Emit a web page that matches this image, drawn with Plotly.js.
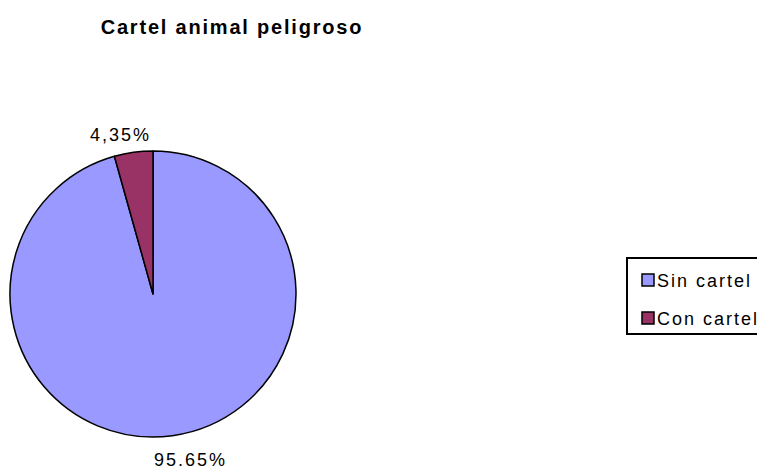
<!DOCTYPE html>
<html><head><meta charset="utf-8">
<script src="https://cdn.plot.ly/plotly-3.0.1.min.js"></script>
<style>html,body{margin:0;padding:0;background:#fff}
.gtitle{letter-spacing:1.8px}
.legendtext{letter-spacing:2px; transform:translateX(-11px)}
.annotation-text{letter-spacing:2px}
.legend .scrollbox{clip-path:none !important}
.legend .bg{height:76px}
.legend .traces:nth-child(1){transform:translate(2px,23px)}
.legend .traces:nth-child(2){transform:translate(2px,61px)}
</style>
</head><body>
<div id="chart" style="width:757px;height:470px"></div>
<script>
const categories = ["Sin cartel", "Con cartel"];
const values = [95.65, 4.35];
const valueLabels = ["95.65%", "4,35%"];
const colors = ["#9999FF", "#993366"];

const trace = {
  type: "pie",
  labels: categories,
  values: values,
  sort: false,
  direction: "clockwise",
  rotation: 0,
  textinfo: "none",
  hoverinfo: "label+percent",
  marker: {colors: colors, line: {color: "#000000", width: 1.5}},
  domain: {x: [10/757, 296/757], y: [33/470, 319/470]}
};

const layout = {
  width: 757, height: 470,
  margin: {l: 0, r: 0, t: 0, b: 0, autoexpand: false},
  paper_bgcolor: "#ffffff",
  font: {family: "Liberation Sans, Arial, sans-serif", color: "#000"},
  title: {text: "<b>Cartel animal peligroso</b>", font: {size: 20, color: "#000"},
          x: 232/757, xanchor: "center", y: 1 - 27/470, yanchor: "middle"},
  showlegend: true,
  legend: {xref: "container", yref: "container", x: 626/757, xanchor: "left", y: 1 - 257/470, yanchor: "top",
           bordercolor: "#000", borderwidth: 2, bgcolor: "#fff",
           font: {size: 18, color: "#000"}},
  annotations: [
    {text: valueLabels[1], xref: "paper", yref: "paper", x: 120/757, y: 1 - 135/470,
     xanchor: "center", yanchor: "middle",
     showarrow: false, font: {size: 18, color: "#000"}},
    {text: valueLabels[0], xref: "paper", yref: "paper", x: 190/757, y: 1 - 460/470,
     xanchor: "center", yanchor: "middle",
     showarrow: false, font: {size: 18, color: "#000"}}
  ]
};

Plotly.newPlot("chart", [trace], layout, {staticPlot: true});
</script>
</body></html>
